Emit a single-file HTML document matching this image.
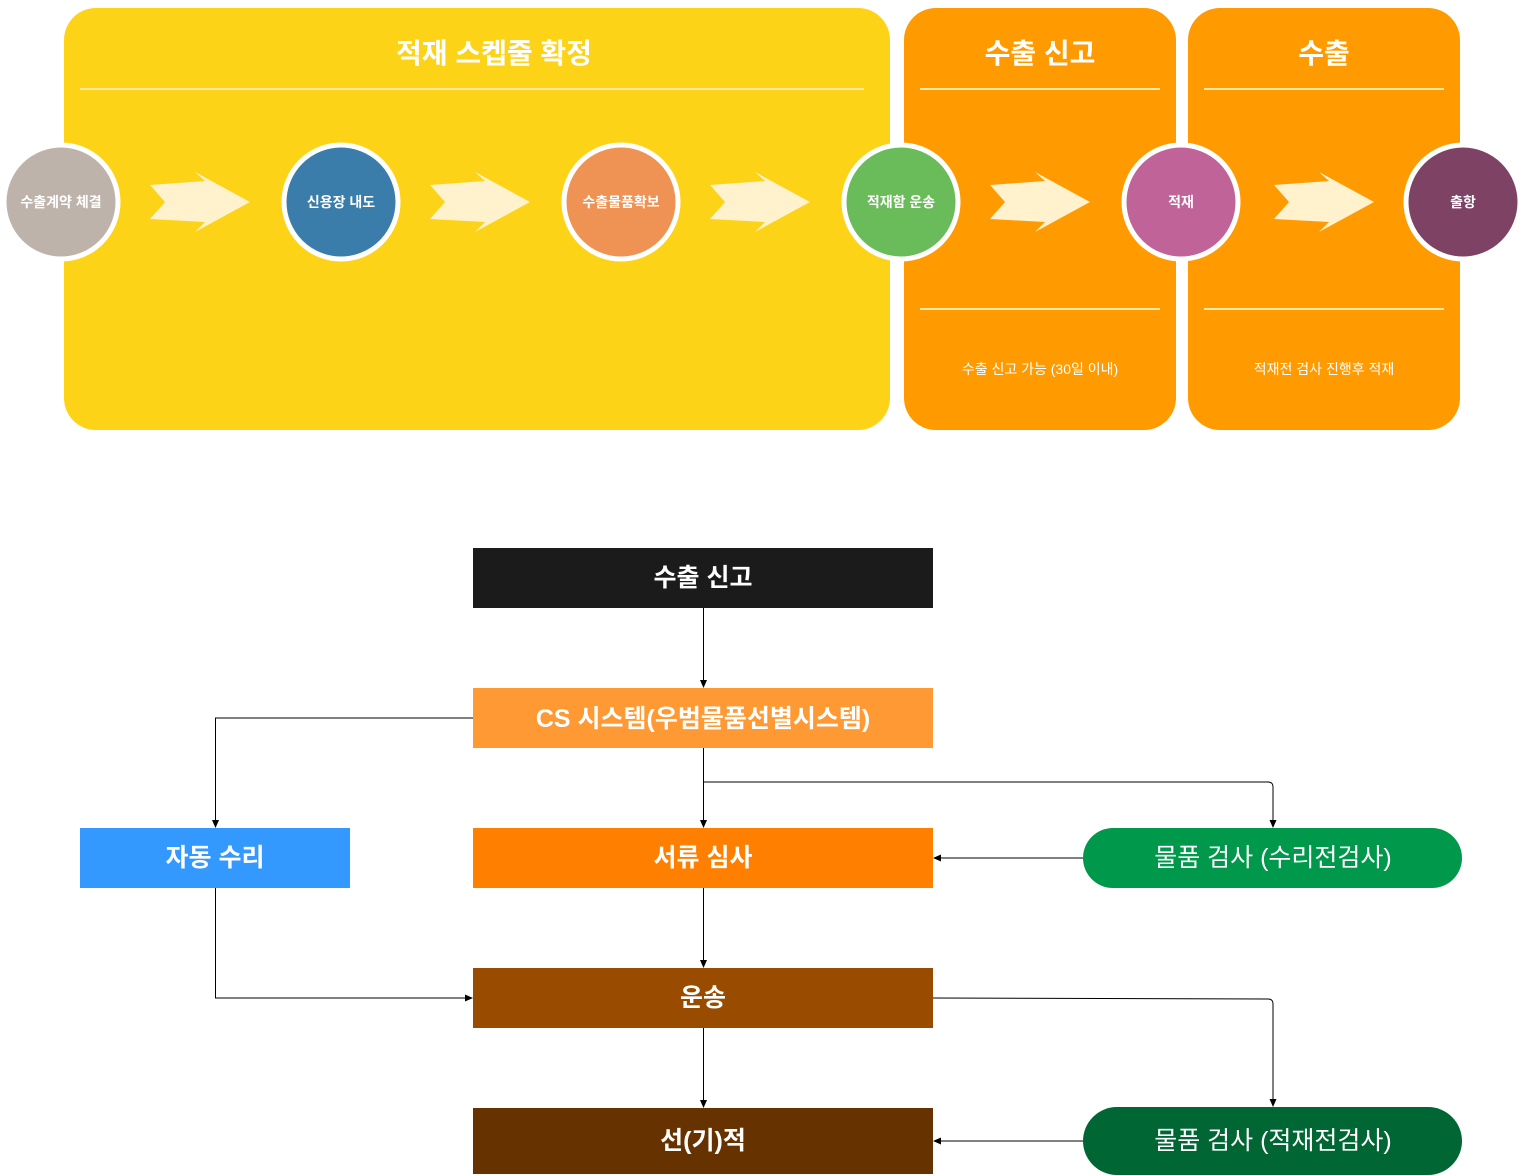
<!DOCTYPE html>
<html><head><meta charset="utf-8"><style>body{margin:0;background:#fff}svg{display:block}text{font-family:"Liberation Sans","Noto Sans CJK KR",sans-serif}</style></head><body>
<svg width="1525" height="1176" viewBox="0 0 1525 1176" xmlns="http://www.w3.org/2000/svg">
<defs>
<marker id="a" markerWidth="8" markerHeight="8" refX="7" refY="4" orient="auto" markerUnits="userSpaceOnUse"><path d="M0,0.5 L8,4 L0,7.5 z" fill="#000"/></marker>
<polygon id="ar" points="0,-17 55,-21 45,-30 100,0 45,30 55,20 0,17 15,0" fill="#FFF2CC"/>
</defs>
<rect x="64" y="8" width="826" height="422" rx="32" fill="#FDD318"/>
<rect x="904" y="8" width="272" height="422" rx="32" fill="#FF9B00"/>
<rect x="1188" y="8" width="272" height="422" rx="32" fill="#FF9B00"/>
<g fill="#fff" font-weight="bold" font-size="28" text-anchor="middle">
<text x="494" y="63">적재 스켑줄 확정</text>
<text x="1040" y="63">수출 신고</text>
<text x="1324" y="63">수출</text>
</g>
<g stroke="#FFE9A0" stroke-width="2">
<line x1="80" y1="89" x2="864" y2="89"/><line x1="920" y1="89" x2="1160" y2="89"/><line x1="1204" y1="89" x2="1444" y2="89"/>
<line x1="920" y1="309" x2="1160" y2="309"/><line x1="1204" y1="309" x2="1444" y2="309"/>
</g>
<g fill="#fff" font-size="14" text-anchor="middle">
<text x="1040" y="374">수출 신고 가능 (30일 이내)</text>
<text x="1324" y="374">적재전 검사 진행후 적재</text>
</g>
<use href="#ar" x="150" y="202"/><use href="#ar" x="430" y="202"/><use href="#ar" x="710" y="202"/><use href="#ar" x="990" y="202"/><use href="#ar" x="1274" y="202"/>
<g stroke="#fff" stroke-width="5">
<circle cx="61" cy="202" r="57" fill="#BEB3AA"/>
<circle cx="341" cy="202" r="57" fill="#3A7DAB"/>
<circle cx="621" cy="202" r="57" fill="#EE9353"/>
<circle cx="901" cy="202" r="57" fill="#6ABB5A"/>
<circle cx="1181" cy="202" r="57" fill="#C06399"/>
<circle cx="1463" cy="202" r="57" fill="#7E4264"/>
</g>
<g fill="#fff" font-size="14" font-weight="bold" text-anchor="middle">
<text x="61" y="207">수출계약 체결</text><text x="341" y="207">신용장 내도</text><text x="621" y="207">수출물품확보</text>
<text x="901" y="207">적재함 운송</text><text x="1181" y="207">적재</text><text x="1463" y="207">출항</text>
</g>
<g fill="none" stroke="#000" stroke-width="1" marker-end="url(#a)">
<path d="M703.5,608 V687"/>
<path d="M473,718 H215.5 V827"/>
<path d="M703.5,748 V827"/>
<path d="M703.5,782 H1268 Q1273,782 1273,787 V827"/>
<path d="M1083,858 H934"/>
<path d="M703.5,888 V967"/>
<path d="M215.5,888 V998 H472"/>
<path d="M933,998 L1268,999 Q1273,999 1273,1004 V1106"/>
<path d="M703.5,1028 V1107"/>
<path d="M1083,1141 H934"/>
</g>
<rect x="473" y="548" width="460" height="60" fill="#1B1B1B"/>
<rect x="473" y="688" width="460" height="60" fill="#FF9933"/>
<rect x="473" y="828" width="460" height="60" fill="#FF8000"/>
<rect x="80" y="828" width="270" height="60" fill="#3399FF"/>
<rect x="473" y="968" width="460" height="60" fill="#994C00"/>
<rect x="473" y="1108" width="460" height="66" fill="#663300"/>
<rect x="1083" y="828" width="379" height="60" rx="30" fill="#00994C"/>
<rect x="1083" y="1107" width="379" height="68" rx="34" fill="#006633"/>
<g fill="#fff" font-size="25" font-weight="bold" text-anchor="middle">
<text x="703" y="586">수출 신고</text>
<text x="703" y="727">CS 시스템(우범물품선별시스템)</text>
<text x="703" y="866">서류 심사</text>
<text x="215" y="866">자동 수리</text>
<text x="703" y="1006">운송</text>
<text x="703" y="1149">선(기)적</text>
</g>
<g fill="#fff" font-size="25" text-anchor="middle">
<text x="1273" y="866">물품 검사 (수리전검사)</text>
<text x="1273" y="1149">물품 검사 (적재전검사)</text>
</g>
</svg>
</body></html>
